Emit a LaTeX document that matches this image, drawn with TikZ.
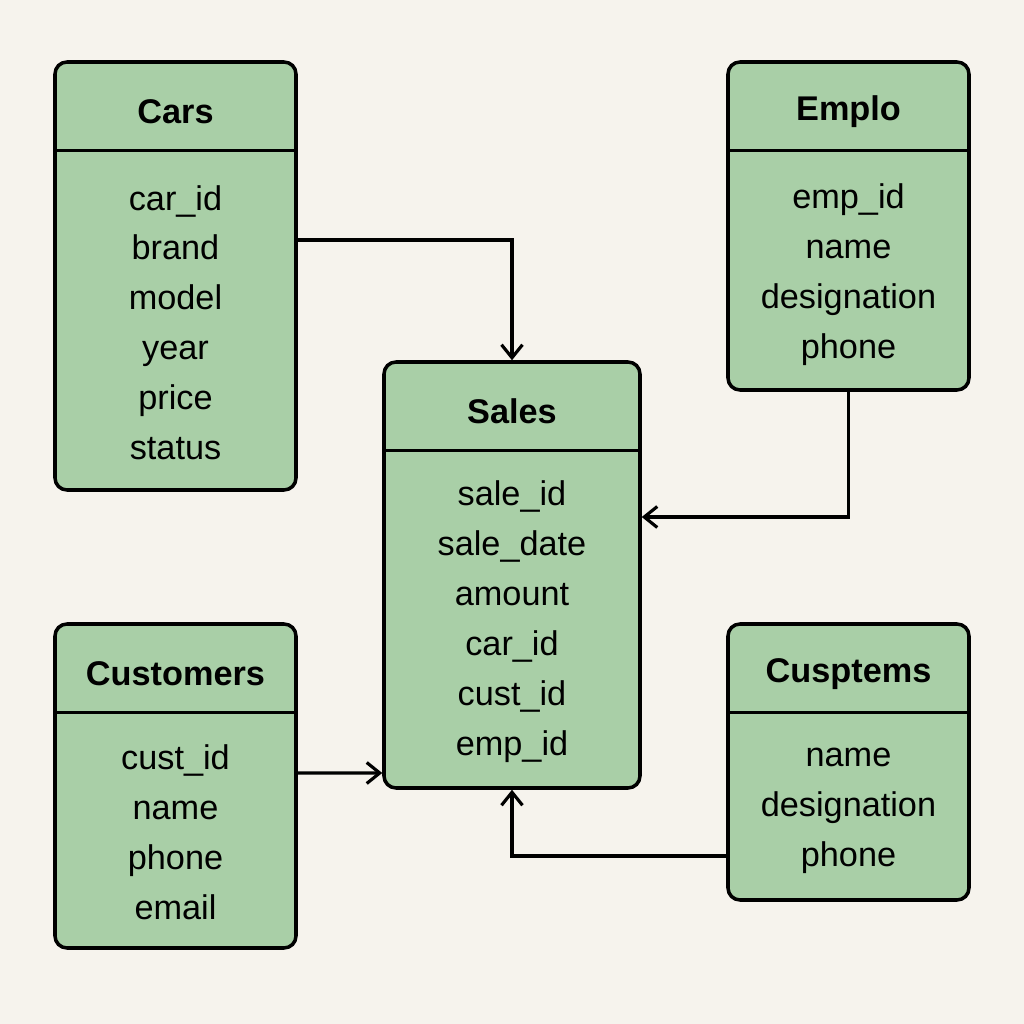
\documentclass[tikz,border=0pt]{standalone}
\usepackage{fontspec}
\setmainfont{Liberation Sans}
\usetikzlibrary{arrows.meta}
\definecolor{paper}{HTML}{F6F3ED}
\definecolor{entitygreen}{HTML}{A9CFA7}
\tikzset{%
  >={Straight Barb[width=4.2mm,length=2.6mm]},
  % Specifications for style of nodes:
        entity/.style = {rectangle, rounded corners=0.24cm, draw=black,
                         line width=2pt, fill=entitygreen,
                         minimum width=4.82cm, inner sep=0pt},
   entitytitle/.style = {font=\fontsize{19.5}{23}\selectfont\bfseries},
  entityfields/.style = {align=center, inner sep=0pt,
                         font=\fontsize{19.5}{28.45}\selectfont},
     headerline/.style = {line width=1.8pt},
        relation/.style = {->, line width=1.8pt},
}
\begin{document}
\begin{tikzpicture}
  \fill[paper] (0,0) rectangle (20.48,20.48);
  \useasboundingbox (0,0) rectangle (20.48,20.48);

  % tables
  \node (cars)      [entity, minimum height=8.56cm] at (3.51,14.96) {};
  \node (emplo)     [entity, minimum height=6.56cm] at (16.97,15.96) {};
  \node (sales)     [entity, minimum height=8.52cm, minimum width=5.12cm] at (10.24,8.98) {};
  \node (customers) [entity, minimum height=6.48cm] at (3.51,4.76) {};
  \node (cusptems)  [entity, minimum height=5.52cm] at (16.97,5.24) {};

  % header lines
  \draw[headerline] ([yshift=-1.8cm]cars.north west) -- ([yshift=-1.8cm]cars.north east);
  \draw[headerline] ([yshift=-1.8cm]emplo.north west) -- ([yshift=-1.8cm]emplo.north east);
  \draw[headerline] ([yshift=-1.8cm]sales.north west) -- ([yshift=-1.8cm]sales.north east);
  \draw[headerline] ([yshift=-1.8cm]customers.north west) -- ([yshift=-1.8cm]customers.north east);
  \draw[headerline] ([yshift=-1.8cm]cusptems.north west) -- ([yshift=-1.8cm]cusptems.north east);

  % titles
  \node (carsT)      [entitytitle] at ([yshift=-1.03cm]cars.north) {Cars};
  \node (emploT)     [entitytitle] at ([yshift=-1.03cm]emplo.north) {Emplo};
  \node (salesT)     [entitytitle] at ([yshift=-1.03cm]sales.north) {Sales};
  \node (customersT) [entitytitle] at ([yshift=-1.03cm]customers.north) {Customers};
  \node (cusptemsT)  [entitytitle] at ([yshift=-1.03cm]cusptems.north) {Cusptems};

  % fields
  \node (carsF)      [entityfields] at ([yshift=-5.25cm]cars.north)
        {car\_id\\brand\\model\\year\\price\\status};
  \node (emploF)     [entityfields] at ([yshift=-4.28cm]emplo.north)
        {emp\_id\\name\\designation\\phone};
  \node (salesF)     [entityfields] at ([yshift=-5.23cm]sales.north)
        {sale\_id\\sale\_date\\amount\\car\_id\\cust\_id\\emp\_id};
  \node (customersF) [entityfields] at ([yshift=-4.2cm]customers.north)
        {cust\_id\\name\\phone\\email};
  \node (cusptemsF)  [entityfields] at ([yshift=-3.78cm]cusptems.north)
        {name\\designation\\phone};

  % relations
  \draw[relation] ([yshift=0.72cm]cars.east) -| (sales.north);
  \draw[relation] (emplo.south) |- ([yshift=1.16cm]sales.east);
  \draw[relation] ([yshift=0.26cm]customers.east) -- ([yshift=-3.96cm]sales.west);
  \draw[relation] ([yshift=-1.88cm]cusptems.west) -| (sales.south);
\end{tikzpicture}
\end{document}
